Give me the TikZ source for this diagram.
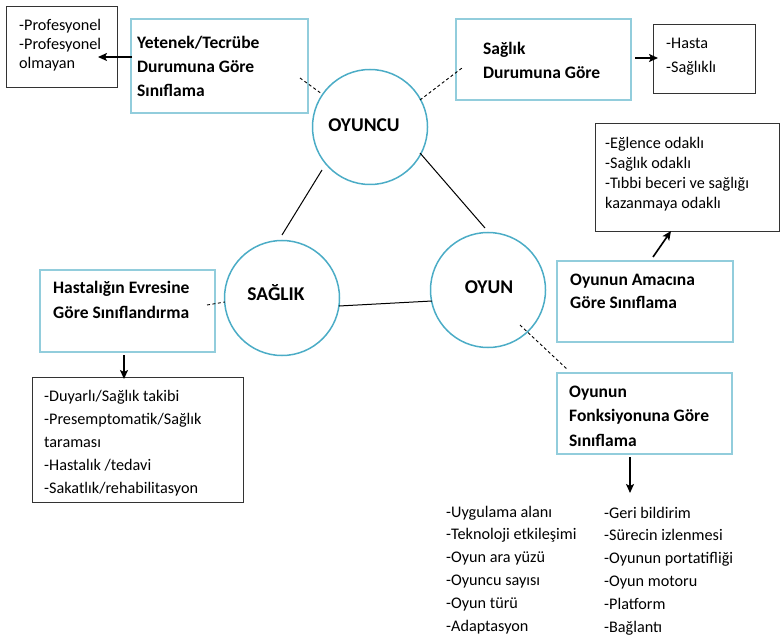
\documentclass[tikz,border=0pt]{standalone}
\usepackage{fontspec}
\setmainfont{Carlito}
\usetikzlibrary{arrows.meta}
\definecolor{boxblue}{HTML}{92CDDC}
\definecolor{circblue}{HTML}{4BACC6}
\definecolor{edgegray}{HTML}{333333}
\begin{document}
\begin{tikzpicture}[x=1pt,y=-1pt,
  bluebox/.style={draw=boxblue,line width=1.6pt},
  blackbox/.style={draw=edgegray,line width=1.2pt},
  circ/.style={draw=circblue,line width=1.5pt,circle,minimum size=115pt,inner sep=0pt},
  circlabel/.style={font=\fontsize{19.5}{21}\selectfont\bfseries,inner sep=0pt,anchor=base},
  boldtxt/.style={font=\fontsize{17.5}{24.4}\selectfont\bfseries,align=left,inner sep=0pt,anchor=base west},
  listtxt/.style={font=\fontsize{16.2}{19.3}\selectfont,align=left,inner sep=0pt,anchor=base west},
  arr/.style={-{Stealth[length=9pt,width=8pt,inset=2pt]},line width=1.6pt},
  dashline/.style={dashed,dash pattern=on 3pt off 2.5pt,line width=0.9pt},
  solidline/.style={line width=1pt}]
\useasboundingbox (0,0) rectangle (781,636);

% circles
\node[circ] (oyuncu) at (370,127) {};
\node[circ] (saglik) at (282,298) {};
\node[circ] (oyun) at (488,290) {};
\node[circlabel] (loyuncu) at (364,132) {OYUNCU};
\node[circlabel] (lsaglik) at (276,300) {SAĞLIK};
\node[circlabel] (loyun) at (489,293) {OYUN};

% triangle connectors
\coordinate (c1a) at (322,170); \coordinate (c1b) at (282,235);
\coordinate (c2a) at (420,153); \coordinate (c2b) at (485,228);
\coordinate (c3a) at (339,306); \coordinate (c3b) at (432,301);
\draw[solidline] (c1a) -- (c1b);
\draw[solidline] (c2a) -- (c2b);
\draw[solidline] (c3a) -- (c3b);

% Yetenek box
\node[bluebox,minimum width=177pt,minimum height=94pt,anchor=north west,inner sep=0pt] (yetenek) at (130,18) {};
\node[boldtxt] (tyetenek) at (137,97) {Yetenek/Tecrübe\\Durumuna Göre\\Sınıflama};
\node[blackbox,minimum width=111pt,minimum height=81pt,anchor=north west,inner sep=0pt] (prof) at (6,6) {};
\node[listtxt] (tprof) at (19,69) {-Profesyonel\\-Profesyonel\\olmayan};
\coordinate (a1s) at (132,57); \coordinate (a1e) at (98,57);
\draw[arr] (a1s) -- (a1e);
\coordinate (d1a) at (300,78); \coordinate (d1b) at (322,94);
\draw[dashline] (d1a) -- (d1b);

% Sağlık durumuna box
\node[bluebox,minimum width=175pt,minimum height=81pt,anchor=north west,inner sep=0pt] (sdur) at (455,18) {};
\node[boldtxt] (tsdur) at (483,79) {Sağlık\\Durumuna Göre};
\node[blackbox,minimum width=102pt,minimum height=69pt,anchor=north west,inner sep=0pt] (hasta) at (653,24) {};
\node[listtxt,font=\fontsize{16.2}{24.4}\selectfont] (thasta) at (666,72.7) {-Hasta\\-Sağlıklı};
\coordinate (a2s) at (635,58); \coordinate (a2e) at (658,58);
\draw[arr] (a2s) -- (a2e);
\coordinate (d2a) at (420,100); \coordinate (d2b) at (462,68);
\draw[dashline] (d2a) -- (d2b);

% Oyunun amacına
\node[blackbox,minimum width=184pt,minimum height=108pt,anchor=north west,inner sep=0pt] (eglence) at (595,123) {};
\node[listtxt,font=\fontsize{16.2}{20}\selectfont] (teglence) at (605,209) {-Eğlence odaklı\\-Sağlık odaklı\\-Tıbbi beceri ve sağlığı\\kazanmaya odaklı};
\node[bluebox,minimum width=176pt,minimum height=81pt,anchor=north west,inner sep=0pt] (amac) at (556,260) {};
\node[boldtxt,font=\fontsize{17.5}{23}\selectfont\bfseries] (tamac) at (570,308) {Oyunun Amacına\\Göre Sınıflama};
\coordinate (a3s) at (653,257); \coordinate (a3e) at (671,231);
\draw[arr] (a3s) -- (a3e);

% Hastalığın evresine
\node[bluebox,minimum width=175pt,minimum height=82pt,anchor=north west,inner sep=0pt] (evre) at (39,269) {};
\node[boldtxt] (tevre) at (53,318) {Hastalığın Evresine\\Göre Sınıflandırma};
\node[blackbox,minimum width=211pt,minimum height=125pt,anchor=north west,inner sep=0pt] (duyarli) at (32,377) {};
\node[listtxt,font=\fontsize{16.2}{22.9}\selectfont] (tduyarli) at (44,493.5) {-Duyarlı/Sağlık takibi\\-Presemptomatik/Sağlık\\taraması\\-Hastalık /tedavi\\-Sakatlık/rehabilitasyon};
\coordinate (a4s) at (124,355); \coordinate (a4e) at (124,379);
\draw[arr] (a4s) -- (a4e);
\coordinate (d3a) at (207,305); \coordinate (d3b) at (225,302);
\draw[dashline] (d3a) -- (d3b);

% Oyunun fonksiyonuna
\node[bluebox,minimum width=175pt,minimum height=81pt,anchor=north west,inner sep=0pt] (fonk) at (556,372) {};
\node[boldtxt] (tfonk) at (569,446) {Oyunun\\Fonksiyonuna Göre\\Sınıflama};
\coordinate (d4a) at (520,325); \coordinate (d4b) at (568,370);
\draw[dashline] (d4a) -- (d4b);
\coordinate (a5s) at (630,457); \coordinate (a5e) at (630,493);
\draw[arr] (a5s) -- (a5e);
\node[listtxt,font=\fontsize{16.2}{22.8}\selectfont] (tleft) at (446,631) {-Uygulama alanı\\-Teknoloji etkileşimi\\-Oyun ara yüzü\\-Oyuncu sayısı\\-Oyun türü\\-Adaptasyon};
\node[listtxt,font=\fontsize{16.2}{22.8}\selectfont] (tright) at (604,632) {-Geri bildirim\\-Sürecin izlenmesi\\-Oyunun portatifliği\\-Oyun motoru\\-Platform\\-Bağlantı};
\end{tikzpicture}
\end{document}
